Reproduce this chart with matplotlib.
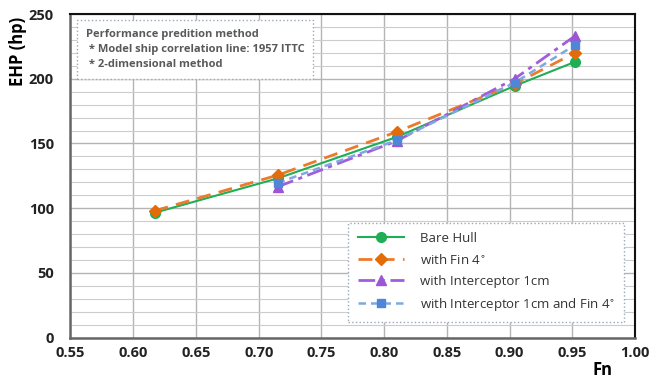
import matplotlib.pyplot as plt
from matplotlib.ticker import MultipleLocator

# Froude numbers and effective horsepower
fn_all = [0.617, 0.715, 0.810, 0.904, 0.952]
fn_int = [0.715, 0.810, 0.904, 0.952]
ehp_bare = [96.5, 123, 155, 194.5, 213]
ehp_fin = [98, 125.5, 159, 196, 220]
ehp_int = [116.5, 152, 200, 233]
ehp_int_fin = [119.5, 152.5, 197, 226]

plt.rcParams['font.family'] = ['Open Sans', 'DejaVu Sans']

fig = plt.figure(figsize=(6.49, 3.79), dpi=100)
ax = fig.add_axes([0.1086, 0.109, 0.870, 0.854])

ax.plot(fn_all, ehp_bare, color='#1fae55', lw=1.5, marker='o', ms=7,
        label='Bare Hull', zorder=3)
ax.plot(fn_all, ehp_fin, color='#ec7a2c', lw=2, ls=(0, (5, 3)), marker='D',
        ms=6, mfc='#e36c0a', mec='#e36c0a', label='with Fin 4$^{\\circ}$', zorder=3)
ax.plot(fn_int, ehp_int, color='#a25ddb', lw=2, ls=(0, (6, 2, 1.5, 2)),
        marker='^', ms=7, mfc='#9b55d6', mec='#9b55d6',
        label='with Interceptor 1cm', zorder=3)
ax.plot(fn_int, ehp_int_fin, color='#7fa8e0', lw=1.8, ls=(0, (3, 2)),
        marker='s', ms=6, mfc='#4f86d8', mec='#4f86d8',
        label='with Interceptor 1cm and Fin 4$^{\\circ}$', zorder=3)

ax.set_xlim(0.55, 1.00)
ax.set_ylim(0, 250)
ax.xaxis.set_major_locator(MultipleLocator(0.05))
ax.yaxis.set_major_locator(MultipleLocator(50))
ax.yaxis.set_minor_locator(MultipleLocator(10))
ax.xaxis.set_major_formatter(plt.FormatStrFormatter('%.2f'))
ax.grid(which='major', color='#b4b4b4', lw=1.0)
ax.grid(which='minor', axis='y', color='#cccccc', lw=0.8)
ax.set_axisbelow(True)
ax.tick_params(which='both', length=0, labelsize=10.5, pad=6)
ax.tick_params(axis='y', pad=12)
for lab in ax.get_xticklabels() + ax.get_yticklabels():
    lab.set_fontweight('bold')
    lab.set_color('#222222')

for side in ['top', 'right']:
    ax.spines[side].set_color('#111111')
    ax.spines[side].set_linewidth(1.5)
for side in ['left', 'bottom']:
    ax.spines[side].set_color('#666666')
    ax.spines[side].set_linewidth(1.8)

ax.set_ylabel('EHP (hp)', fontsize=12, fontweight='bold')
ax.yaxis.set_label_coords(-0.077, 0.885)
ax.text(0.943, -0.10, 'Fn', transform=ax.transAxes, fontsize=12,
        fontweight='bold', ha='center', va='center')

ax.text(0.027, 0.955,
        'Performance predition method\n * Model ship correlation line: 1957 ITTC\n * 2-dimensional method',
        transform=ax.transAxes, fontsize=8, fontweight='bold', color='#595959',
        va='top', ha='left', linespacing=1.55,
        bbox=dict(boxstyle='square,pad=0.8', fc='white', ec='#9aa8b8',
                  ls=':', lw=1.0))

leg = ax.legend(loc='lower right', bbox_to_anchor=(0.992, 0.028), fontsize=9.5,
                handlelength=3.5, handletextpad=1.2, labelspacing=0.6,
                borderpad=0.7, fancybox=False, framealpha=1)
leg.get_frame().set_edgecolor('#9aa8b8')
leg.get_frame().set_linestyle(':')
for t in leg.get_texts():
    t.set_color('#333333')

fig.savefig('out.png', dpi=100)
